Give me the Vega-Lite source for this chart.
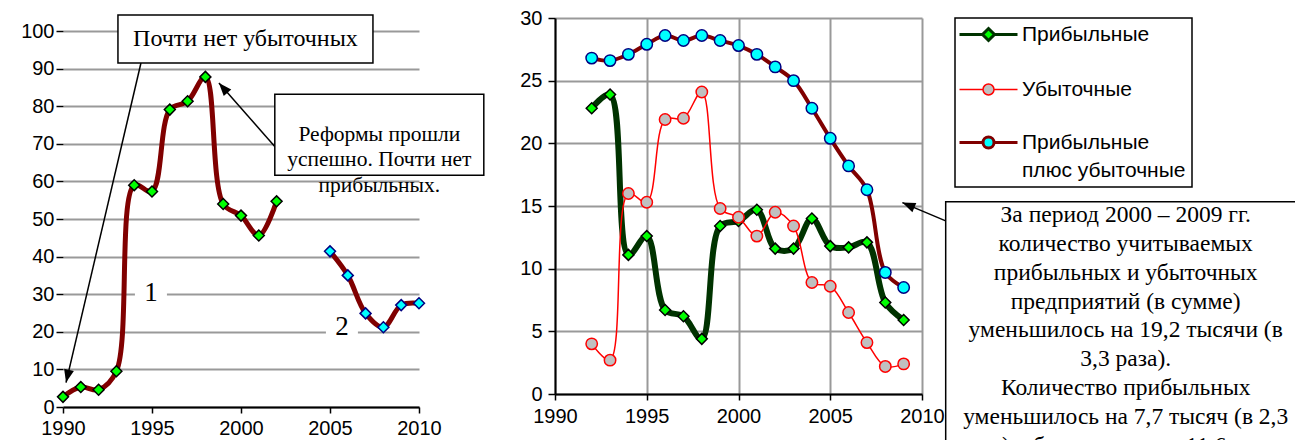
{
  "$schema": "https://vega.github.io/schema/vega-lite/v6.json",
  "background": "white",
  "padding": {"left": 20, "top": 8, "right": 0, "bottom": 0},
  "bounds": "flush",
  "spacing": 136,
  "resolve": {"scale": {"stroke": "independent", "fill": "independent", "color": "independent"}, "legend": {"stroke": "independent"}},
  "config": {
    "view": {"stroke": null},
    "axis": {
      "labelFont": "Liberation Sans", "labelFontSize": 20, "labelColor": "#000000",
      "tickColor": "#000000", "domainColor": "#000000", "domainWidth": 2,
      "tickWidth": 1.5, "tickSize": 7, "gridColor": "#999999", "gridWidth": 2,
      "labelFlush": false, "labelOverlap": false
    }
  },
  "datasets": {
    "left": [
      {"year": 1990, "value": 2.7, "part": 1}, {"year": 1991, "value": 5.3, "part": 1},
      {"year": 1992, "value": 4.6, "part": 1}, {"year": 1993, "value": 9.5, "part": 1},
      {"year": 1994, "value": 59.0, "part": 1}, {"year": 1995, "value": 57.3, "part": 1},
      {"year": 1996, "value": 79.1, "part": 1}, {"year": 1997, "value": 81.3, "part": 1},
      {"year": 1998, "value": 87.8, "part": 1}, {"year": 1999, "value": 54.0, "part": 1},
      {"year": 2000, "value": 50.9, "part": 1}, {"year": 2001, "value": 45.6, "part": 1},
      {"year": 2002, "value": 54.7, "part": 1},
      {"year": 2005, "value": 41.4, "part": 2}, {"year": 2006, "value": 35.0, "part": 2},
      {"year": 2007, "value": 24.9, "part": 2}, {"year": 2008, "value": 21.2, "part": 2},
      {"year": 2009, "value": 27.1, "part": 2}, {"year": 2010, "value": 27.6, "part": 2}
    ],
    "right": [
      {"year": 1992, "series": "Прибыльные", "value": 22.8}, {"year": 1993, "series": "Прибыльные", "value": 23.9},
      {"year": 1994, "series": "Прибыльные", "value": 11.1}, {"year": 1995, "series": "Прибыльные", "value": 12.6},
      {"year": 1996, "series": "Прибыльные", "value": 6.7}, {"year": 1997, "series": "Прибыльные", "value": 6.2},
      {"year": 1998, "series": "Прибыльные", "value": 4.4}, {"year": 1999, "series": "Прибыльные", "value": 13.4},
      {"year": 2000, "series": "Прибыльные", "value": 13.8}, {"year": 2001, "series": "Прибыльные", "value": 14.7},
      {"year": 2002, "series": "Прибыльные", "value": 11.6}, {"year": 2003, "series": "Прибыльные", "value": 11.6},
      {"year": 2004, "series": "Прибыльные", "value": 14.0}, {"year": 2005, "series": "Прибыльные", "value": 11.8},
      {"year": 2006, "series": "Прибыльные", "value": 11.7}, {"year": 2007, "series": "Прибыльные", "value": 12.1},
      {"year": 2008, "series": "Прибыльные", "value": 7.3}, {"year": 2009, "series": "Прибыльные", "value": 5.9},
      {"year": 1992, "series": "Убыточные", "value": 4.0}, {"year": 1993, "series": "Убыточные", "value": 2.7},
      {"year": 1994, "series": "Убыточные", "value": 16.0}, {"year": 1995, "series": "Убыточные", "value": 15.3},
      {"year": 1996, "series": "Убыточные", "value": 21.9}, {"year": 1997, "series": "Убыточные", "value": 22.0},
      {"year": 1998, "series": "Убыточные", "value": 24.1}, {"year": 1999, "series": "Убыточные", "value": 14.8},
      {"year": 2000, "series": "Убыточные", "value": 14.1}, {"year": 2001, "series": "Убыточные", "value": 12.6},
      {"year": 2002, "series": "Убыточные", "value": 14.5}, {"year": 2003, "series": "Убыточные", "value": 13.4},
      {"year": 2004, "series": "Убыточные", "value": 8.9}, {"year": 2005, "series": "Убыточные", "value": 8.6},
      {"year": 2006, "series": "Убыточные", "value": 6.5}, {"year": 2007, "series": "Убыточные", "value": 4.1},
      {"year": 2008, "series": "Убыточные", "value": 2.2}, {"year": 2009, "series": "Убыточные", "value": 2.4},
      {"year": 1992, "series": "Прибыльные плюс убыточные", "value": 26.8}, {"year": 1993, "series": "Прибыльные плюс убыточные", "value": 26.6},
      {"year": 1994, "series": "Прибыльные плюс убыточные", "value": 27.1}, {"year": 1995, "series": "Прибыльные плюс убыточные", "value": 27.9},
      {"year": 1996, "series": "Прибыльные плюс убыточные", "value": 28.6}, {"year": 1997, "series": "Прибыльные плюс убыточные", "value": 28.2},
      {"year": 1998, "series": "Прибыльные плюс убыточные", "value": 28.6}, {"year": 1999, "series": "Прибыльные плюс убыточные", "value": 28.2},
      {"year": 2000, "series": "Прибыльные плюс убыточные", "value": 27.8}, {"year": 2001, "series": "Прибыльные плюс убыточные", "value": 27.1},
      {"year": 2002, "series": "Прибыльные плюс убыточные", "value": 26.1}, {"year": 2003, "series": "Прибыльные плюс убыточные", "value": 25.0},
      {"year": 2004, "series": "Прибыльные плюс убыточные", "value": 22.8}, {"year": 2005, "series": "Прибыльные плюс убыточные", "value": 20.4},
      {"year": 2006, "series": "Прибыльные плюс убыточные", "value": 18.2}, {"year": 2007, "series": "Прибыльные плюс убыточные", "value": 16.3},
      {"year": 2008, "series": "Прибыльные плюс убыточные", "value": 9.7}, {"year": 2009, "series": "Прибыльные плюс убыточные", "value": 8.5}
    ],
    "gridYears": [{"year": 1995}, {"year": 2000}, {"year": 2005}, {"year": 2010}],
    "axisYear": [{"year": 1990}],
    "numLabels": [{"text": "1", "year": 1994.94, "value": 30.3}, {"text": "2", "year": 2005.67, "value": 21.3}],
    "noteA": [{"text": "Почти нет убыточных", "year": 2000.25, "value": 97.9}],
    "noteB": [{"text": "Реформы прошли\nуспешно. Почти нет\nприбыльных.", "year": 2007.77, "value": 72.4}],
    "arrowsLeft": [
      {"year": 1994.38, "value": 91.5, "year2": 1990.17, "value2": 6.5},
      {"year": 2001.97, "value": 68.9, "year2": 1998.76, "value2": 86.2}
    ],
    "tipA": [{"year": 1990.17, "value": 6.5}],
    "tipB": [{"year": 1998.76, "value": 86.2}],
    "noteC": [{"text": "За период 2000 – 2009 гг.\nколичество учитываемых\nприбыльных и убыточных\nпредприятий (в сумме)\nуменьшилось на 19,2 тысячи (в\n3,3 раза).\nКоличество прибыльных\nуменьшилось на 7,7 тысяч (в 2,3\nраза), убыточных – на 11,6 тысяч", "year": 2021.1, "value": 15.25}],
    "boxC": [{"year": 2021.7, "value": 3.38}],
    "arrowRight": [{"year": 2011.29, "value": 13.81, "year2": 2008.93, "value2": 15.27}],
    "tipC": [{"year": 2008.93, "value": 15.27}]
  },
  "hconcat": [
    {
      "width": 356,
      "height": 389,
      "encoding": {
        "x": {"field": "year", "type": "quantitative", "title": null,
              "scale": {"domain": [1990, 2010], "nice": false, "zero": false},
              "axis": {"values": [1990, 1995, 2000, 2005, 2010], "format": "d", "grid": false, "tickSize": 6, "labelPadding": 5}},
        "y": {"field": "value", "type": "quantitative", "title": null,
              "scale": {"domain": [0, 103.46], "nice": false, "zero": false},
              "axis": {"values": [0, 10, 20, 30, 40, 50, 60, 70, 80, 90, 100], "domain": false, "grid": true, "labelPadding": 2}}
      },
      "layer": [
        {"data": {"name": "gridYears"}, "mark": {"type": "rule", "color": "#999999", "strokeWidth": 2},
         "encoding": {"y": {"datum": 0}, "y2": {"datum": 100}}},
        {"data": {"name": "axisYear"}, "mark": {"type": "rule", "color": "#000000", "strokeWidth": 2},
         "encoding": {"y": {"datum": 0}, "y2": {"datum": 100}}},
        {"data": {"name": "numLabels"}, "mark": {"type": "rect", "fill": "white", "width": 32, "height": 34},
         "encoding": {}},
        {"data": {"name": "numLabels"}, "mark": {"type": "text", "font": "Liberation Serif", "fontSize": 27, "align": "center", "baseline": "middle", "color": "#000000"},
         "encoding": {"text": {"field": "text"}}},
        {"data": {"name": "left"}, "mark": {"type": "line", "color": "#800000", "strokeWidth": 5, "interpolate": "catmull-rom"},
         "encoding": {"detail": {"field": "part"}}},
        {"data": {"name": "left"}, "transform": [{"filter": "datum.part === 1"}],
         "mark": {"type": "point", "shape": "diamond", "filled": true, "fill": "#00ff00", "stroke": "#000000", "size": 120, "strokeWidth": 1.5, "opacity": 1}},
        {"data": {"name": "left"}, "transform": [{"filter": "datum.part === 2"}],
         "mark": {"type": "point", "shape": "diamond", "filled": true, "fill": "#00ffff", "stroke": "#000080", "size": 120, "strokeWidth": 1.5, "opacity": 1}},
        {"data": {"name": "arrowsLeft"}, "mark": {"type": "rule", "color": "#000000", "strokeWidth": 1.5},
         "encoding": {"x2": {"field": "year2"}, "y2": {"field": "value2"}}},
        {"data": {"name": "tipA"}, "mark": {"type": "point", "shape": "M0,0L1,2.6L-1,2.6Z", "filled": true, "color": "#000000", "size": 100, "angle": 193.2, "opacity": 1}, "encoding": {}},
        {"data": {"name": "tipB"}, "mark": {"type": "point", "shape": "M0,0L1,2.6L-1,2.6Z", "filled": true, "color": "#000000", "size": 100, "angle": 318.8, "opacity": 1}, "encoding": {}},
        {"data": {"name": "noteA"}, "mark": {"type": "rect", "fill": "white", "stroke": "#000000", "strokeWidth": 1.5, "width": 255, "height": 48},
         "encoding": {}},
        {"data": {"name": "noteA"}, "mark": {"type": "text", "font": "Liberation Serif", "fontSize": 24, "align": "center", "baseline": "middle", "color": "#000000"},
         "encoding": {"text": {"field": "text"}}},
        {"data": {"name": "noteB"}, "mark": {"type": "rect", "fill": "white", "stroke": "#000000", "strokeWidth": 1.5, "width": 209, "height": 81},
         "encoding": {}},
        {"data": {"name": "noteB"}, "mark": {"type": "text", "font": "Liberation Serif", "fontSize": 21.5, "align": "center", "baseline": "middle", "lineHeight": 25.5, "lineBreak": "\n", "color": "#000000"},
         "encoding": {"text": {"field": "text"}}}
      ]
    },
    {
      "width": 367,
      "height": 376,
      "encoding": {
        "x": {"field": "year", "type": "quantitative", "title": null,
              "scale": {"domain": [1990, 2010], "nice": false, "zero": false},
              "axis": {"values": [1990, 1995, 2000, 2005, 2010], "format": "d", "grid": true, "tickSize": 6, "labelPadding": 6}},
        "y": {"field": "value", "type": "quantitative", "title": null,
              "scale": {"domain": [0, 30], "nice": false, "zero": false},
              "axis": {"values": [0, 5, 10, 15, 20, 25, 30], "grid": true, "labelPadding": 6}}
      },
      "layer": [
        {"data": {"name": "right"}, "transform": [{"filter": "datum.series === 'Прибыльные'"}],
         "mark": {"type": "line", "strokeWidth": 6, "interpolate": "catmull-rom"},
         "encoding": {"stroke": {"field": "series", "type": "nominal",
            "scale": {"domain": ["Прибыльные", "Убыточные", "Прибыльные плюс убыточные"], "range": ["#003300", "#ff0000", "#800000"]},
            "legend": {
              "title": null, "orient": "right", "offset": 33, "padding": 6,
              "strokeColor": "#000000",
              "symbolSize": 400, "symbolOffset": 17, "symbolType": "circle",
              "labelOffset": 23, "labelFont": "Liberation Sans", "labelFontSize": 21, "labelColor": "#000000",
              "labelLimit": 400, "rowPadding": 31,
              "labelExpr": "datum.label === 'Прибыльные плюс убыточные' ? ['Прибыльные', 'плюс убыточные'] : datum.label",
              "symbolStrokeWidth": 3,
              "encode": {
                "legend": {"update": {"strokeWidth": {"value": 1.5}}},
                "labels": {"update": {"lineHeight": {"value": 28}}},
                "symbols": {"update": {
                "shape": {"signal": "datum.value === 'Прибыльные' ? 'M-2.9,0H-0.6M0.6,0H2.9M0,-0.6L0.6,0L0,0.6L-0.6,0Z' : 'M-2.9,0H-0.6M0.6,0H2.9M0.55,0A0.55,0.55,0,1,1,-0.55,0A0.55,0.55,0,1,1,0.55,0Z'"},
                "fill": {"signal": "datum.value === 'Прибыльные' ? '#00ff00' : datum.value === 'Убыточные' ? '#c0c0c0' : '#00ffff'"},
                "strokeWidth": {"signal": "datum.value === 'Убыточные' ? 1.5 : 3"},
                "opacity": {"value": 1},
                "fillOpacity": {"value": 1}
              }}}
            }}}},
        {"data": {"name": "right"}, "transform": [{"filter": "datum.series === 'Прибыльные'"}],
         "mark": {"type": "point", "shape": "diamond", "filled": true, "fill": "#00ff00", "stroke": "#000000", "strokeWidth": 1.5, "size": 120, "opacity": 1}},
        {"data": {"name": "right"}, "transform": [{"filter": "datum.series === 'Убыточные'"}],
         "mark": {"type": "line", "strokeWidth": 1.5, "interpolate": "catmull-rom"},
         "encoding": {"stroke": {"field": "series", "type": "nominal"}}},
        {"data": {"name": "right"}, "transform": [{"filter": "datum.series === 'Убыточные'"}],
         "mark": {"type": "point", "shape": "circle", "filled": true, "fill": "#c0c0c0", "stroke": "#ff0000", "strokeWidth": 1.5, "size": 130, "opacity": 1}},
        {"data": {"name": "right"}, "transform": [{"filter": "datum.series === 'Прибыльные плюс убыточные'"}],
         "mark": {"type": "line", "strokeWidth": 4, "interpolate": "catmull-rom"},
         "encoding": {"stroke": {"field": "series", "type": "nominal"}}},
        {"data": {"name": "right"}, "transform": [{"filter": "datum.series === 'Прибыльные плюс убыточные'"}],
         "mark": {"type": "point", "shape": "circle", "filled": true, "fill": "#00ffff", "stroke": "#000080", "strokeWidth": 1.5, "size": 130, "opacity": 1}},
        {"data": {"name": "arrowRight"}, "mark": {"type": "rule", "color": "#000000", "strokeWidth": 1.5},
         "encoding": {"x2": {"field": "year2"}, "y2": {"field": "value2"}}},
        {"data": {"name": "tipC"}, "mark": {"type": "point", "shape": "M0,0L1,2.6L-1,2.6Z", "filled": true, "color": "#000000", "size": 100, "angle": 292.9, "opacity": 1}, "encoding": {}},
        {"data": {"name": "boxC"}, "mark": {"type": "rect", "fill": "white", "stroke": "#000000", "strokeWidth": 1.5, "width": 382, "height": 300},
         "encoding": {}},
        {"data": {"name": "noteC"}, "mark": {"type": "text", "font": "Liberation Serif", "fontSize": 23.5, "align": "center", "baseline": "top", "lineHeight": 28.9, "lineBreak": "\n", "color": "#000000"},
         "encoding": {"text": {"field": "text"}}}
      ]
    }
  ]
}
